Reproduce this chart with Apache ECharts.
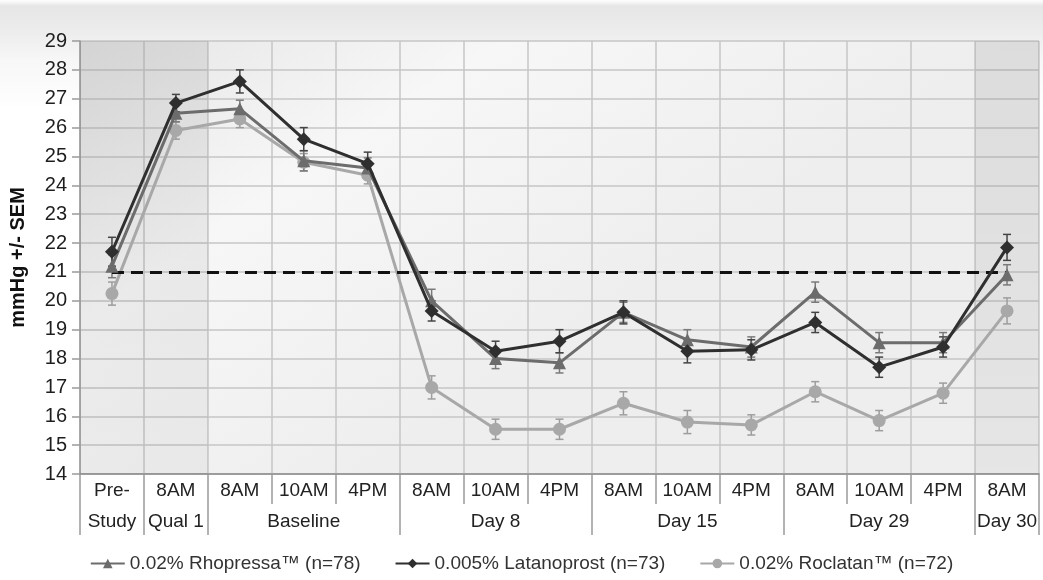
<!DOCTYPE html>
<html>
<head>
<meta charset="utf-8">
<script src="https://cdn.jsdelivr.net/npm/echarts@6/dist/echarts.min.js"></script>
<style>
html,body{margin:0;padding:0;}
body{width:1043px;height:580px;background:linear-gradient(to bottom,#ffffff 0px,#e6e6e6 6px,#ececec 30px,#f7f7f7 60px,#ffffff 110px);}
#chart{width:1043px;height:580px;}
</style>
</head>
<body>
<div id="chart"></div>
<script>
// ---- data ----
const categoryKeys = ['Pre-Study','Qual 1 8AM','Baseline 8AM','Baseline 10AM','Baseline 4PM','Day 8 8AM','Day 8 10AM','Day 8 4PM','Day 15 8AM','Day 15 10AM','Day 15 4PM','Day 29 8AM','Day 29 10AM','Day 29 4PM','Day 30 8AM'];
const timeLabels = ['Pre-','8AM','8AM','10AM','4PM','8AM','10AM','4PM','8AM','10AM','4PM','8AM','10AM','4PM','8AM'];
const groupLabels = ['Study','Qual 1','Baseline','Day 8','Day 15','Day 29','Day 30'];
const groupSpans = [1,1,3,3,3,3,1];
const shadedColumns = [0,1,14];

const rhopressa = [21.2,26.5,26.65,24.85,24.6,20.0,18.0,17.85,19.6,18.65,18.4,20.3,18.55,18.55,20.9];
const rhopressaSEM = [0.4,0.3,0.3,0.35,0.35,0.4,0.35,0.35,0.35,0.35,0.35,0.35,0.35,0.35,0.35];
const latanoprost = [21.7,26.85,27.6,25.6,24.75,19.65,18.25,18.6,19.6,18.25,18.3,19.25,17.7,18.4,21.85];
const latanoprostSEM = [0.5,0.3,0.4,0.4,0.4,0.35,0.35,0.4,0.4,0.4,0.35,0.35,0.35,0.35,0.45];
const roclatan = [20.25,25.9,26.3,24.8,24.35,17.0,15.55,15.55,16.45,15.8,15.7,16.85,15.85,16.8,19.65];
const roclatanSEM = [0.4,0.3,0.3,0.3,0.3,0.4,0.35,0.35,0.4,0.4,0.35,0.35,0.35,0.35,0.45];
const thresholdValue = 21;

const seriesNames = ['0.02% Rhopressa\u2122 (n=78)','0.005% Latanoprost (n=73)','0.02% Roclatan\u2122 (n=72)'];

// ---- helpers ----
const groupBounds = [-0.5];
const groupCenters = [];
let acc = -0.5;
groupSpans.forEach(s => { groupCenters.push(acc + s/2); acc += s; groupBounds.push(acc); });

function errData(vals, sem){ return vals.map((v,i)=>[i, v - sem[i], v + sem[i]]); }
function errSeries(vals, sem, color, z){
  return {
    type:'custom', silent:true, z:z,
    data: errData(vals, sem),
    encode:{x:0,y:[1,2]},
    renderItem:function(params, api){
      const x = api.value(0);
      const lo = api.coord([x, api.value(1)]);
      const hi = api.coord([x, api.value(2)]);
      const h = 4;
      const st = {stroke:color, lineWidth:1.5};
      return {type:'group', children:[
        {type:'line', shape:{x1:lo[0],y1:lo[1],x2:hi[0],y2:hi[1]}, style:st},
        {type:'line', shape:{x1:lo[0]-h,y1:lo[1],x2:lo[0]+h,y2:lo[1]}, style:st},
        {type:'line', shape:{x1:hi[0]-h,y1:hi[1],x2:hi[0]+h,y2:hi[1]}, style:st}
      ]};
    }
  };
}

const FONT = 'Liberation Sans, Arial, sans-serif';
const chart = echarts.init(document.getElementById('chart'), null, {renderer:'canvas'});
const option = {
  animation:false,
  textStyle:{fontFamily:FONT},
  grid:{left:79, right:4, top:41, bottom:106, show:true, borderWidth:0,
    backgroundColor:{type:'linear',x:0,y:0,x2:0.3,y2:1,colorStops:[
      {offset:0,color:'#e5e5e5'},{offset:0.45,color:'#f7f7f7'},{offset:1,color:'#eeeeee'}]}},
  legend:{
    bottom:2, left:'center', itemGap:34, itemWidth:34, itemHeight:12,
    textStyle:{fontSize:19, color:'#333', fontFamily:FONT},
    data:seriesNames
  },
  xAxis:[
    {type:'category', data:categoryKeys, boundaryGap:true, position:'bottom',
      axisLine:{show:true, onZero:false, lineStyle:{color:'#8a8a8a', width:1.5}},
      axisTick:{show:true, interval:0, length:30, lineStyle:{color:'#9a9a9a', width:1.5}},
      axisLabel:{interval:0, margin:7, fontSize:19, color:'#222',
        formatter:(v,i)=>timeLabels[i]},
      splitLine:{show:true, interval:0, lineStyle:{color:'#c6c6c6', width:1.5}}
    },
    {type:'value', min:-0.5, max:14.5, position:'bottom',
      axisLine:{show:false, onZero:false},
      axisTick:{show:true, length:61, customValues:groupBounds, lineStyle:{color:'#9a9a9a', width:1.5}},
      axisLabel:{show:true, margin:38, fontSize:19, color:'#222', customValues:groupCenters,
        formatter:(v)=>{const k=groupCenters.findIndex(c=>Math.abs(c-v)<1e-6); return k>=0?groupLabels[k]:'';}},
      splitLine:{show:false}
    }
  ],
  yAxis:{type:'value', min:14, max:29, interval:1,
    name:'mmHg +/- SEM', nameLocation:'middle', nameGap:52,
    nameTextStyle:{fontSize:20, fontWeight:'bold', color:'#111'},
    axisLine:{show:true, onZero:false, lineStyle:{color:'#9a9a9a', width:1.5}},
    axisTick:{show:true, length:8, lineStyle:{color:'#9a9a9a', width:1.5}},
    axisLabel:{fontSize:20, color:'#1e1e1e', margin:13},
    splitLine:{show:true, lineStyle:{color:'#c6c6c6', width:1.5}}
  },
  series:[
    {type:'custom', silent:true, z:1, xAxisIndex:0,
      data:shadedColumns.map(i=>[i]),
      encode:{x:0},
      renderItem:function(params, api){
        const i = api.value(0);
        const top = api.coord([i, 29]);
        const bot = api.coord([i, 14]);
        const w = api.size([1,0])[0];
        return {type:'rect', shape:{x:top[0]-w/2, y:top[1], width:w, height:bot[1]-top[1]},
          style:{fill:{type:'linear',x:0,y:0,x2:0,y2:1,colorStops:[
            {offset:0,color:'rgba(0,0,0,0.075)'},{offset:1,color:'rgba(0,0,0,0.035)'}]}}};
      }
    },
    errSeries(roclatan, roclatanSEM, '#9d9d9d', 3),
    errSeries(rhopressa, rhopressaSEM, '#7a7a7a', 3),
    errSeries(latanoprost, latanoprostSEM, '#444444', 3),
    {name:seriesNames[2], type:'line', data:roclatan, z:4,
      symbol:'circle', symbolSize:13,
      lineStyle:{color:'#a8a8a8', width:3}, itemStyle:{color:'#a8a8a8'}},
    {name:seriesNames[0], type:'line', data:rhopressa, z:5,
      symbol:'triangle', symbolSize:13,
      lineStyle:{color:'#6c6c6c', width:3}, itemStyle:{color:'#6c6c6c'},
      markLine:{silent:true, symbol:'none', label:{show:false},
        lineStyle:{color:'#111', width:3, type:[12,7]},
        data:[[{coord:[0,thresholdValue]},{coord:[14,thresholdValue]}]]}},
    {name:seriesNames[1], type:'line', data:latanoprost, z:6,
      symbol:'diamond', symbolSize:14,
      lineStyle:{color:'#2f2f2f', width:3}, itemStyle:{color:'#2f2f2f'}}
  ]
};
chart.setOption(option);
</script>
</body>
</html>
